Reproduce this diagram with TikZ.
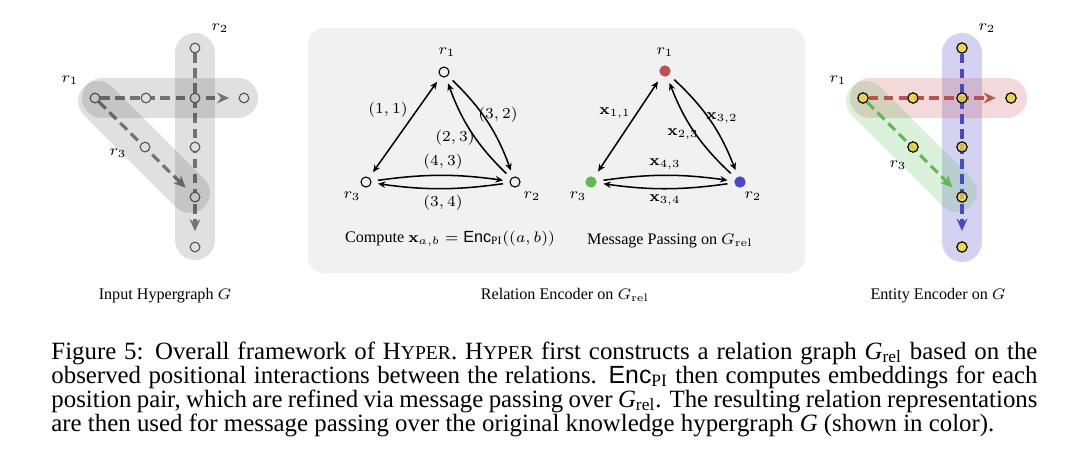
\documentclass[tikz,border=0pt]{standalone}
\usepackage[no-math]{fontspec}
\setmainfont{Liberation Serif}
\newfontfamily\encfont{Liberation Sans}
\usetikzlibrary{arrows.meta}
\definecolor{dashgray}{RGB}{132,132,132}
\definecolor{nodegray}{RGB}{100,100,100}
\definecolor{pnlgray}{RGB}{241,241,241}
\definecolor{rred}{RGB}{192,80,77}
\definecolor{rblue}{RGB}{72,72,200}
\definecolor{rgreen}{RGB}{95,185,80}
\definecolor{nyellow}{RGB}{236,214,70}
\definecolor{bred}{RGB}{200,80,80}
\definecolor{bblue}{RGB}{80,80,200}
\definecolor{bgreen}{RGB}{90,190,90}
\newcommand{\hyp}{H{\fontsize{9}{10}\selectfont YPER}}
\newcommand{\encpi}{{\encfont Enc}\textsubscript{PI}}
\begin{document}
\begin{tikzpicture}[x=0.4587pt,y=-0.4587pt,
  band/.style={line width=18.35pt, line cap=round},
  hn/.style={circle, inner sep=0pt, minimum size=4.4pt, draw=nodegray, line width=0.45pt, fill=white},
  yn/.style={circle, inner sep=0pt, minimum size=4.7pt, draw=black, line width=0.45pt, fill=nyellow, fill opacity=0.8, draw opacity=1},
  hd/.style={line width=1.45pt, dash pattern=on 4.5pt off 2.4pt, -{Stealth[length=5.6pt,width=5pt,inset=1.9pt]}},
  tn/.style={circle, inner sep=0pt, minimum size=4.6pt, draw=black, line width=0.5pt},
  cn/.style={circle, inner sep=0pt, minimum size=5.2pt},
  rel/.style={line width=0.7pt, -{Stealth[length=3.4pt,width=3pt]}, shorten >=3pt, shorten <=3pt},
  lbl/.style={font=\fontsize{7.4}{9}\selectfont, inner sep=0pt},
  sublbl/.style={font=\fontsize{7.4}{9}\selectfont, inner sep=0pt, anchor=base},
  captxt/.style={anchor=base west, inner sep=0pt, font=\fontsize{11.4}{12}\selectfont}]
\useasboundingbox (0,0) rectangle (1080,462);

% ---------------- left panel: input hypergraph ----------------
\node[hn] (a1) at (95,98) {};
\node[hn] (a2) at (146,98) {};
\node[hn] (a3) at (195,98) {};
\node[hn] (a4) at (244,98) {};
\node[hn] (b1) at (195,48) {};
\node[hn] (b3) at (195,147) {};
\node[hn] (b4) at (195,197) {};
\node[hn] (b5) at (195,247) {};
\node[hn] (c2) at (145,147) {};
\draw[hd, dashgray, shorten >=4.4pt] (a1) -- (a4);
\draw[hd, dashgray, shorten >=4.8pt] (b1) -- (b5);
\draw[hd, dashgray, shorten >=3.6pt] (a1) -- (b4);
\foreach \n in {a1,a2,a3,a4,b1,b3,b4,b5,c2} \node[hn] at (\n) {};
\draw[band, draw=black, draw opacity=0.12] (102,98) -- (238,98);
\draw[band, draw=black, draw opacity=0.12] (195,53) -- (195,240);
\draw[band, draw=black, draw opacity=0.12] (98,101) -- (190,193);
\node[lbl] (lr1) at (70,80) {$r_1$};
\node[lbl] (lr2) at (220,28) {$r_2$};
\node[lbl] (lr3) at (118,153) {$r_3$};
\node[sublbl] (ltitle) at (165,299) {Input Hypergraph $G$};

% ---------------- middle panel: relation encoder ----------------
\fill[pnlgray, rounded corners=7.3pt] (308,28) rectangle (805,273);
% left triangle
\node[tn] (L1) at (444,72) {};
\node[tn] (L2) at (515,182) {};
\node[tn] (L3) at (366,182) {};
\node[lbl] (lL1) at (447,52) {$r_1$};
\node[lbl] (lL2) at (532,196) {$r_2$};
\node[lbl] (lL3) at (352,196) {$r_3$};
\draw[rel, {Stealth[length=3.4pt,width=3pt]}-{Stealth[length=3.4pt,width=3pt]}] (L1) -- (L3);
\draw[rel, bend left=13] (L1) to (L2);
\draw[rel, bend left=13] (L2) to (L1);
\draw[rel, bend left=8] (L3) to (L2);
\draw[rel, bend left=8] (L2) to (L3);
\node[lbl] (e11) at (388,110) {$(1,1)$};
\node[lbl] (e32) at (498,115) {$(3,2)$};
\node[lbl] (e23) at (455,138) {$(2,3)$};
\node[lbl] (e43) at (443,162) {$(4,3)$};
\node[lbl] (e34) at (443,203) {$(3,4)$};
\node[sublbl] (comp) at (450,242.5) {Compute $\mathbf{x}_{a,b} = \mbox{\encfont Enc}_{\mbox{\fontsize{5.2}{6}\selectfont PI}}((a,b))$};
% right triangle
\node[cn, fill=rred] (R1) at (665,71) {};
\node[cn, fill=rblue] (R2) at (740,182) {};
\node[cn, fill=rgreen] (R3) at (591,182) {};
\node[lbl] (lR1) at (665,52) {$r_1$};
\node[lbl] (lR2) at (753,196) {$r_2$};
\node[lbl] (lR3) at (578,196) {$r_3$};
\draw[rel, {Stealth[length=3.4pt,width=3pt]}-{Stealth[length=3.4pt,width=3pt]}] (R1) -- (R3);
\draw[rel, bend left=13] (R1) to (R2);
\draw[rel, bend left=13] (R2) to (R1);
\draw[rel, bend left=8] (R3) to (R2);
\draw[rel, bend left=8] (R2) to (R3);
\node[lbl] (x11) at (615,113) {$\mathbf{x}_{1,1}$};
\node[lbl] (x32) at (722,118) {$\mathbf{x}_{3,2}$};
\node[lbl] (x23) at (683,134) {$\mathbf{x}_{2,3}$};
\node[lbl] (x43) at (665,164) {$\mathbf{x}_{4,3}$};
\node[lbl] (x34) at (665,200) {$\mathbf{x}_{3,4}$};
\node[sublbl] (mp) at (670,244.5) {Message Passing on $G_{\mathrm{rel}}$};
\node[sublbl] (mtitle) at (565,299) {Relation Encoder on $G_{\mathrm{rel}}$};

% ---------------- right panel: entity encoder ----------------
\draw[band, draw=bblue, draw opacity=0.25] (962,53) -- (962,242);
\draw[band, draw=bred, draw opacity=0.22] (870,98) -- (1007,98);
\draw[band, draw=bgreen, draw opacity=0.22] (866,101) -- (957,192);
\node[yn] (p1) at (863,98) {};
\node[yn] (p2) at (913,98) {};
\node[yn] (p3) at (962,98) {};
\node[yn] (p4) at (1011,98) {};
\node[yn] (q1) at (962,48) {};
\node[yn] (q3) at (962,147) {};
\node[yn] (q4) at (962,197) {};
\node[yn] (q5) at (962,247) {};
\node[yn] (s2) at (913,147) {};
\draw[hd, rred, shorten >=4.4pt] (p1) -- (p4);
\draw[hd, rblue, shorten >=4.8pt] (q1) -- (q5);
\draw[hd, rgreen, shorten >=3.6pt] (p1) -- (q4);
\foreach \n in {p1,p2,p3,p4,q1,q3,q4,q5,s2} \node[yn] at (\n) {};
\node[lbl] (rr1) at (838,80) {$r_1$};
\node[lbl] (rr2) at (987,28) {$r_2$};
\node[lbl] (rr3) at (898,165) {$r_3$};
\node[sublbl] (rtitle) at (938,299) {Entity Encoder on $G$};

% ---------------- caption ----------------
\node[captxt] (cap1) at (51,359) {\hbox to 452.3pt{Figure 5: Overall framework of \hyp. \hyp{} first constructs a relation graph \textit{G}\textsubscript{rel} based on the}};
\node[captxt] (cap2) at (51,383) {\hbox to 452.3pt{observed positional interactions between the relations. \encpi{} then computes embeddings for each}};
\node[captxt] (cap3) at (51,407) {\hbox to 452.3pt{position pair, which are refined via message passing over \textit{G}\textsubscript{rel}. The resulting relation representations}};
\node[captxt] (cap4) at (51,431) {are then used for message passing over the original knowledge hypergraph \textit{G} (shown in color).};
\end{tikzpicture}
\end{document}
